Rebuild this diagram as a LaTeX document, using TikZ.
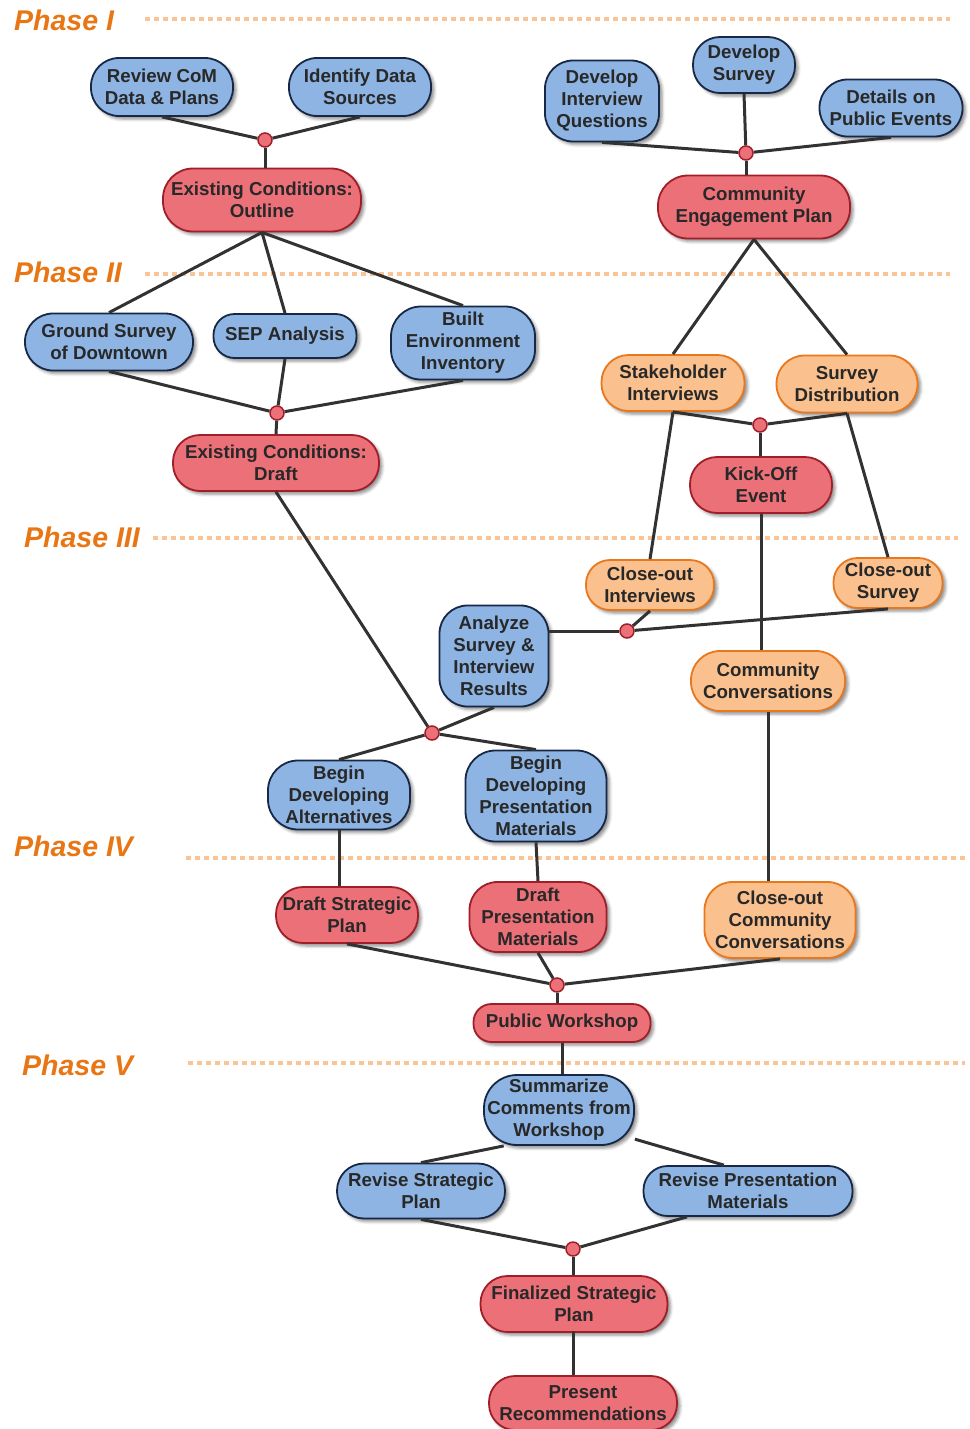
\documentclass[tikz,border=0pt]{standalone}
\usepackage{fontspec}
\setmainfont{Liberation Sans}
\usetikzlibrary{shadows.blur}
\definecolor{bfill}{RGB}{141,180,226}
\definecolor{bdraw}{RGB}{23,40,70}
\definecolor{rfill}{RGB}{236,112,120}
\definecolor{rdraw}{RGB}{160,30,40}
\definecolor{ofill}{RGB}{250,192,142}
\definecolor{odraw}{RGB}{232,120,30}
\definecolor{txt}{RGB}{40,40,40}
\definecolor{lnc}{RGB}{50,50,50}
\definecolor{phc}{RGB}{232,118,20}
\definecolor{dotc}{RGB}{251,196,150}
\newcommand\boxfont{\fontsize{18.7}{22}\selectfont\bfseries}
\newcommand\phasefont{\fontsize{28.5}{28.5}\selectfont\bfseries\itshape}
\tikzset{
  base/.style={align=center, font=\boxfont, text=txt, line width=1.8pt, inner sep=0pt,
    blur shadow={shadow xshift=3pt, shadow yshift=-3pt, shadow blur radius=3pt, shadow opacity=45}},
  bl/.style={base, fill=bfill, draw=bdraw},
  rd/.style={base, fill=rfill, draw=rdraw},
  og/.style={base, fill=ofill, draw=odraw},
  sz/.style n args={3}{minimum width=#1pt, minimum height=#2pt, rounded corners=#3pt},
  jn/.style={circle, minimum size=14pt, inner sep=0pt, fill=rfill, draw=rdraw, line width=1.5pt},
  conn/.style={draw=lnc, line width=3pt},
  phase/.style={anchor=west, font=\phasefont, text=phc, inner sep=0pt},
  sepline/.style={draw=dotc, line width=4.5pt, dash pattern=on 4.5pt off 4.5pt},
}
\begin{document}
\begin{tikzpicture}[x=1pt,y=-1pt]
\useasboundingbox (0,0) rectangle (969,1429);
% phase labels and separators
\node[phase] (p1) at (14,20) {Phase I};
\node[phase] (p2) at (14,272) {Phase II};
\node[phase] (p3) at (24,537) {Phase III};
\node[phase] (p4) at (14,846) {Phase IV};
\node[phase] (p5) at (22,1065) {Phase V};
\draw[sepline] (145,19) -- (950,19);
\draw[sepline] (145,274) -- (950,274);
\draw[sepline] (153,538) -- (958,538);
\draw[sepline] (186,858) -- (969,858);
\draw[sepline] (188,1063) -- (965,1063);
% Phase I
\node[bl, sz={142}{58}{28}] (rcd) at (162,87) {Review CoM\\Data \& Plans};
\node[bl, sz={142}{58}{28}] (ids) at (360,87) {Identify Data\\Sources};
\node[rd, sz={198}{63}{30}] (eco) at (262,200) {Existing Conditions:\\Outline};
\node[bl, sz={114}{81}{28}] (diq) at (602,101) {Develop\\Interview\\Questions};
\node[bl, sz={102}{56}{27}] (dsv) at (744,65) {Develop\\Survey};
\node[bl, sz={143}{57}{28}] (dpe) at (891,108) {Details on\\Public Events};
\node[rd, sz={192}{63}{30}] (cep) at (754,207) {Community\\Engagement Plan};
% Phase II
\node[bl, sz={168}{57}{28}] (gsd) at (109,342) {Ground Survey\\of Downtown};
\node[bl, sz={143}{44}{21}] (sepa) at (285,336) {SEP Analysis};
\node[bl, sz={144}{73}{30}] (bei) at (463,343) {Built\\Environment\\Inventory};
\node[rd, sz={206}{56}{27}] (ecd) at (276,463) {Existing Conditions:\\Draft};
\node[og, sz={143}{56}{27}] (shi) at (673,383) {Stakeholder\\Interviews};
\node[og, sz={141}{57}{28}] (sdi) at (847,384) {Survey\\Distribution};
\node[rd, sz={142}{56}{27}] (koe) at (761,485) {Kick-Off\\Event};
% Phase III
\node[og, sz={128}{50}{24}] (coi) at (650,585) {Close-out\\Interviews};
\node[og, sz={109}{50}{24}] (cos) at (888,583) {Close-out\\Survey};
\node[bl, sz={109}{101}{28}] (ana) at (494,656) {Analyze\\Survey \&\\Interview\\Results};
\node[og, sz={154}{60}{29}] (cco) at (768,681) {Community\\Conversations};
\node[bl, sz={142}{69}{30}] (bda) at (339,795) {Begin\\Developing\\Alternatives};
\node[bl, sz={141}{91}{30}] (bdp) at (536,796) {Begin\\Developing\\Presentation\\Materials};
% Phase IV
\node[rd, sz={142}{56}{27}] (dsp) at (347,915) {Draft Strategic\\Plan};
\node[rd, sz={137}{70}{28}] (dpm) at (538,917) {Draft\\Presentation\\Materials};
\node[og, sz={151}{76}{28}] (ccc) at (780,920) {Close-out\\Community\\Conversations};
\node[rd, sz={177}{38}{18}] (pws) at (562,1023) {Public Workshop};
% Phase V
\node[bl, sz={150}{70}{33}] (scw) at (559,1110) {Summarize\\Comments from\\Workshop};
\node[bl, sz={168}{55}{27}] (rsp) at (421,1191) {Revise Strategic\\Plan};
\node[bl, sz={209}{50}{24}] (rpm) at (748,1191) {Revise Presentation\\Materials};
\node[rd, sz={187}{56}{27}] (fsp) at (574,1304) {Finalized Strategic\\Plan};
\node[rd, sz={188}{54}{26}] (prc) at (583,1403) {Present\\Recommendations};
% junctions
\node[jn] (j1) at (265,140) {};
\node[jn] (j2) at (746,153) {};
\node[jn] (j3) at (277,413) {};
\node[jn] (j4) at (760,425) {};
\node[jn] (j5) at (627,631) {};
\node[jn] (j6) at (432,733) {};
\node[jn] (j7) at (557,985) {};
\node[jn] (j8) at (573,1249) {};
% connectors
\draw[conn] (rcd.south) -- (j1);
\draw[conn] (ids.south) -- (j1);
\draw[conn] (j1) -- (j1 |- eco.north);
\draw[conn] (diq.south) -- (j2);
\draw[conn] (dsv.south) -- (j2);
\draw[conn] (dpe.south) -- (j2);
\draw[conn] (j2) -- (j2 |- cep.north);
\draw[conn] (eco.south) -- (gsd.north);
\draw[conn] (eco.south) -- (sepa.north);
\draw[conn] (eco.south) -- (bei.north);
\draw[conn] (gsd.south) -- (j3);
\draw[conn] (sepa.south) -- (j3);
\draw[conn] (bei.south) -- (j3);
\draw[conn] (j3) -- (ecd.north);
\draw[conn] (cep.south) -- (shi.north);
\draw[conn] (cep.south) -- (sdi.north);
\draw[conn] (shi.south) -- (j4);
\draw[conn] (sdi.south) -- (j4);
\draw[conn] (j4) -- (j4 |- koe.north);
\draw[conn] (shi.south) -- (coi.north);
\draw[conn] (sdi.south) -- (cos.north);
\draw[conn] (koe.south) -- (koe.south |- cco.north);
\draw[conn] (coi.south) -- (j5);
\draw[conn] (cos.south) -- (j5);
\draw[conn] (j5) -- (j5 -| ana.east);
\draw[conn] (ecd.south) -- (j6);
\draw[conn] (ana.south) -- (j6);
\draw[conn] (j6) -- (bda.north);
\draw[conn] (j6) -- (bdp.north);
\draw[conn] (bda.south) -- (bda.south |- dsp.north);
\draw[conn] (bdp.south) -- (dpm.north);
\draw[conn] (cco.south) -- (cco.south |- ccc.north);
\draw[conn] (dsp.south) -- (j7);
\draw[conn] (dpm.south) -- (j7);
\draw[conn] (ccc.south) -- (j7);
\draw[conn] (j7) -- (j7 |- pws.north);
\draw[conn] (pws.south) -- (pws.south |- scw.north);
\draw[conn] (scw.213) -- (rsp.north);
\draw[conn] (scw.-21) -- (rpm.133);
\draw[conn] (rsp.south) -- (j8);
\draw[conn] (rpm.-157.7) -- (j8);
\draw[conn] (j8) -- (j8 |- fsp.north);
\draw[conn] (fsp.south) -- (fsp.south -| j8) -- (j8 |- prc.north);
\end{tikzpicture}
\end{document}
